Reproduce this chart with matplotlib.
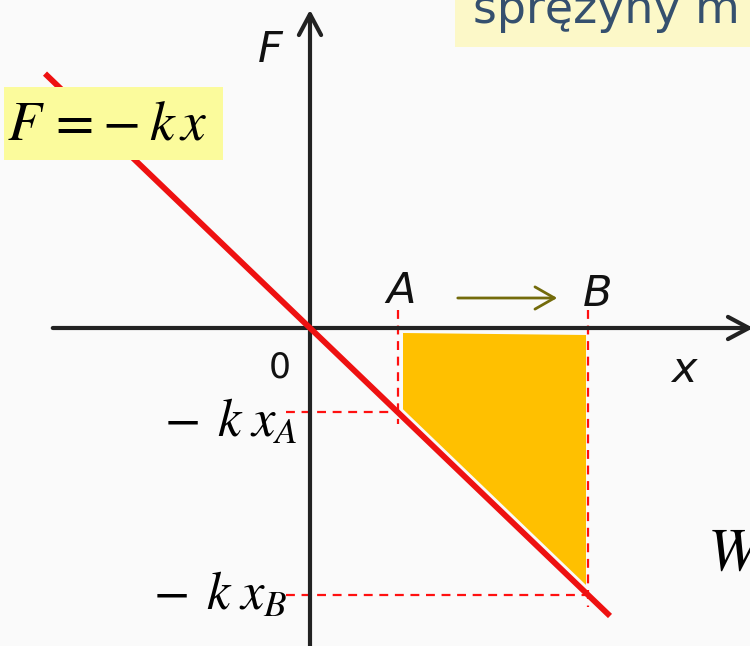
import matplotlib
matplotlib.use("Agg")
from matplotlib import pyplot as plt
from matplotlib.patches import Polygon, Rectangle, FancyArrowPatch

plt.rcParams['mathtext.fontset'] = 'stix'

# spring force F = -k x, work done from x_A to x_B
k = 0.96
x_A = 0.88
x_B = 2.78
line_x = [-2.65, 3.0]
point_labels = ["A", "B"]

fig = plt.figure(figsize=(7.5, 6.46), dpi=100)
fig.patch.set_facecolor("#fafafa")
ax = fig.add_axes([0, 0, 1, 1])
ax.set_xlim(-3.10, 4.40)
ax.set_ylim(-3.18, 3.28)
ax.axis("off")

# shaded area (work)
px = [x_A + 0.05, x_B - 0.02, x_B - 0.02, x_A + 0.05]
pf = [-0.05, -0.07, -k * (x_B - 0.02) + 0.08, -k * (x_A + 0.05) + 0.08]
ax.add_patch(Polygon(list(zip(px, pf)), closed=True, fc="#ffc000", ec="none", zorder=1))

# dashed guides
for xv in [x_A, x_B]:
    fv = -k * xv
    ax.plot([xv, xv], [0.18, fv - 0.12], color="#ff1010", lw=1.6, ls=(0, (4, 3)), zorder=2)
    ax.plot([-0.24, xv], [fv, fv], color="#ff1010", lw=1.6, ls=(0, (4, 3)), zorder=2)

# axes with arrows
ax.add_patch(FancyArrowPatch((-2.6, 0), (4.46, 0), arrowstyle="->,head_length=15,head_width=8",
                             color="#222222", lw=3, zorder=3))
ax.add_patch(FancyArrowPatch((0, -3.3), (0, 3.21), arrowstyle="->,head_length=15,head_width=8",
                             color="#222222", lw=3, zorder=3))

# F = -kx line
ax.plot(line_x, [-k * v for v in line_x], color="#ee1111", lw=4.2, zorder=4, solid_capstyle="butt")

# labels
ax.text(-0.40, 2.78, "F", fontsize=31, style="italic", ha="center", va="center", color="#111111")
ax.text(x_A + 0.03, 0.37, point_labels[0], fontsize=31, style="italic", ha="center", va="center", color="#111111")
ax.text(x_B + 0.10, 0.34, point_labels[1], fontsize=31, style="italic", ha="center", va="center", color="#111111")
ax.text(-0.30, -0.40, "0", fontsize=25, ha="center", va="center", color="#111111")
ax.text(3.74, -0.42, "x", fontsize=31, style="italic", ha="center", va="center", color="#111111")

ax.add_patch(FancyArrowPatch((1.45, 0.30), (2.50, 0.30), arrowstyle="->,head_length=14,head_width=8",
                             color="#736b0b", lw=2, zorder=3))

# formula box
ax.add_patch(Rectangle((-3.06, 1.68), 2.19, 0.73, fc="#fbfb9c", ec="none", zorder=5))
ax.text(-2.03, 2.04, r"$F\,=\!-k\,x$", fontsize=40, ha="center", va="center", zorder=6)

ax.text(-0.13, -1.09, r"$-\;\,k\;x_{A}$", fontsize=38, ha="right", va="baseline", zorder=6)
ax.text(-0.23, -2.82, r"$-\;\,k\;x_{B}$", fontsize=38, ha="right", va="baseline", zorder=6)
ax.text(3.97, -2.42, r"$W$", fontsize=44, ha="left", va="baseline", zorder=6)

# title box at top right
ax.add_patch(Rectangle((1.45, 2.81), 3.1, 0.6, fc="#fcf8c8", ec="none", zorder=5))
ax.text(1.63, 3.05, "sprężyny m", fontsize=33, color="#35506e", ha="left", va="baseline", zorder=6)

fig.savefig("out.png", dpi=100, facecolor=fig.get_facecolor())
